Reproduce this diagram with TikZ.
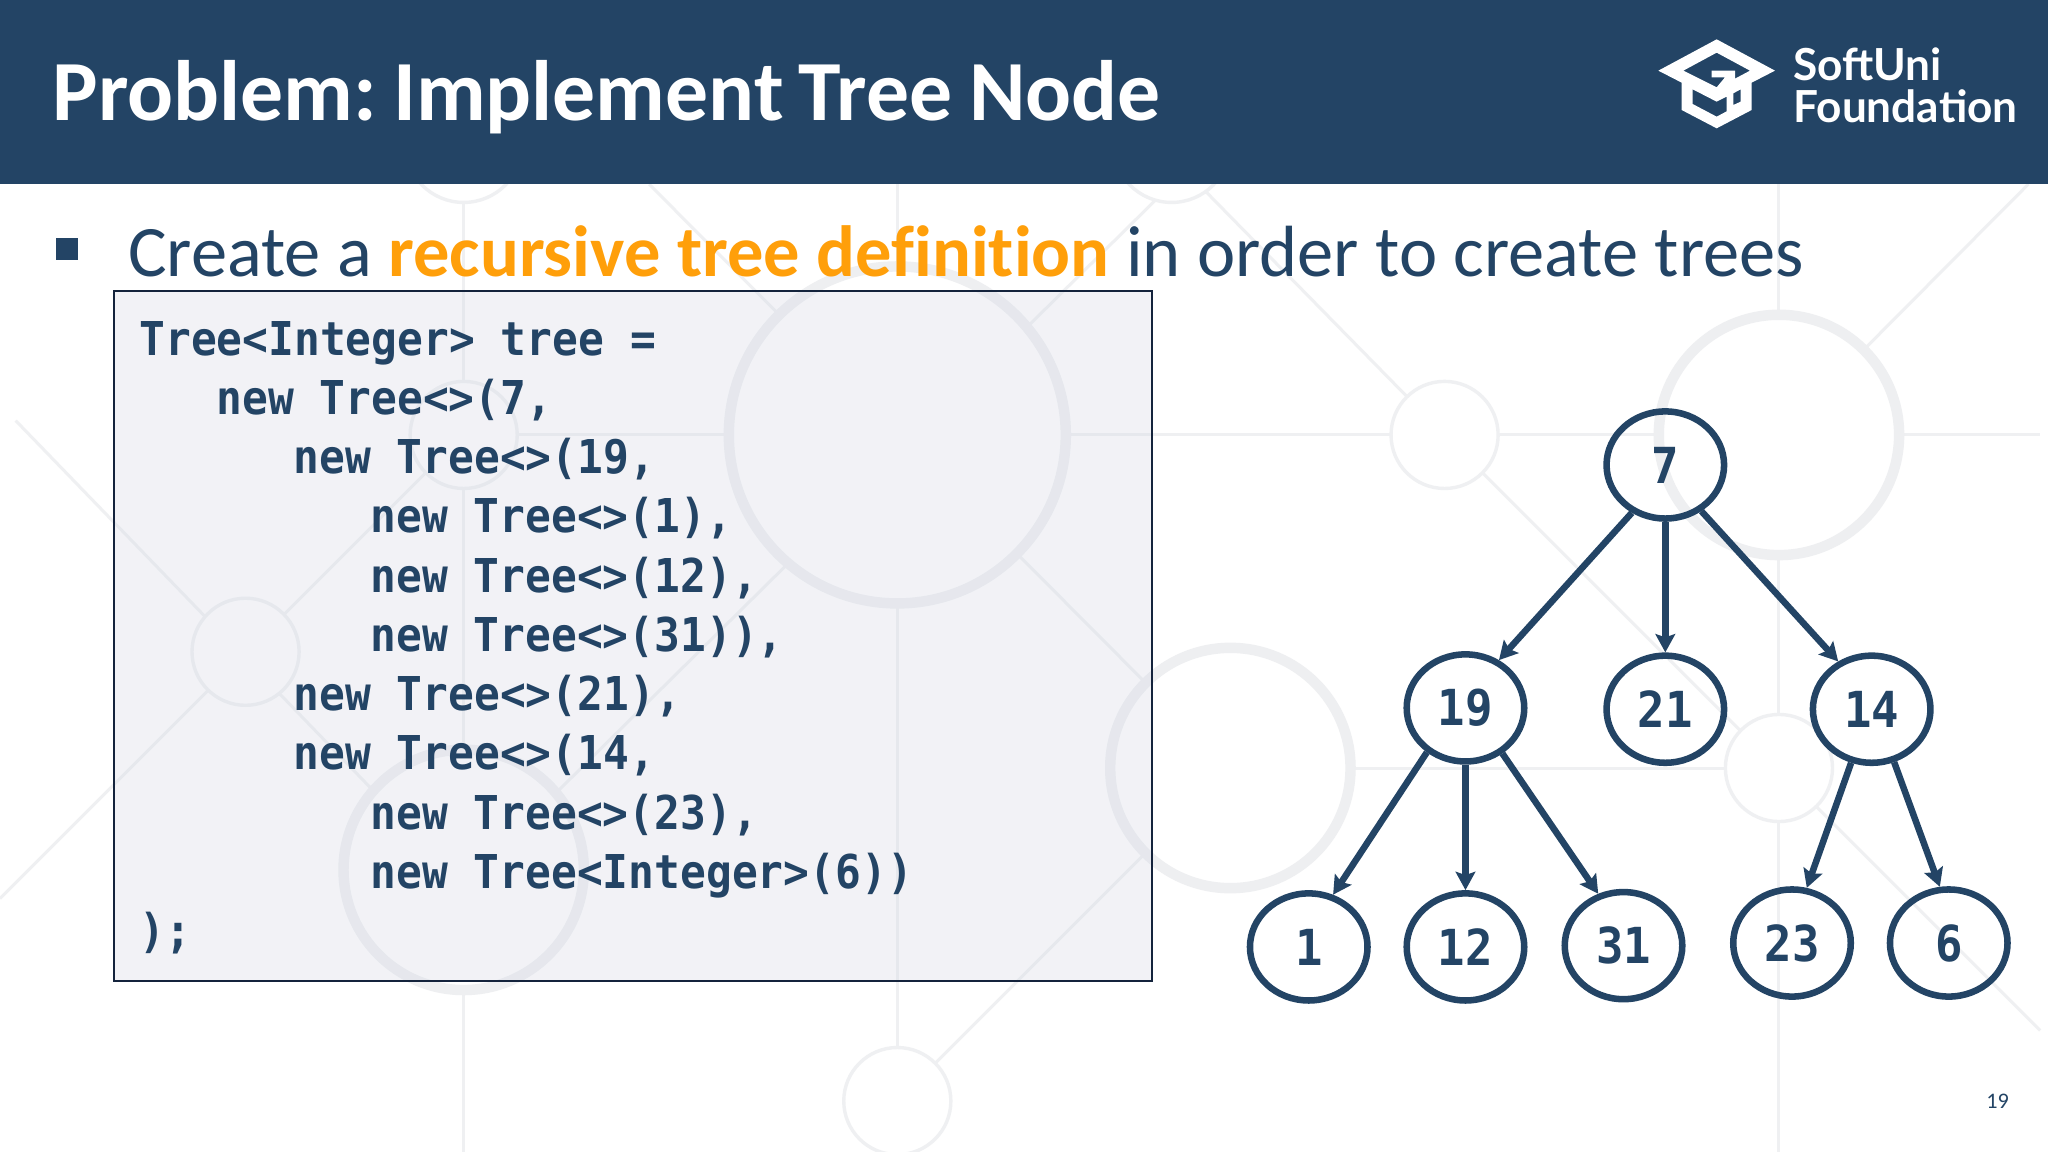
\documentclass[tikz,border=0pt]{standalone}
\usepackage{fontspec}
\usetikzlibrary{shapes.geometric,arrows.meta}
\setmainfont[Ligatures=NoCommon]{Carlito}
\newfontfamily\codefont[FakeStretch=0.92]{DejaVu Sans Mono}
\newfontfamily\logofont{Lato}
\definecolor{navy}{HTML}{234465}
\definecolor{amber}{HTML}{FF9F0A}
\definecolor{bgline}{HTML}{EFF0F2}
\definecolor{bgring}{HTML}{EEEFF1}
\definecolor{codebg}{HTML}{D4D7E4}
\definecolor{boxline}{HTML}{14233C}
\tikzset{
  treenode/.style={draw=navy,line width=5pt,ellipse,minimum width=90pt,minimum height=82pt,inner sep=0pt,text=navy,font=\fontsize{38}{38}\codefont\bfseries},
  treeedge/.style={draw=navy,line width=5pt,-{Stealth[length=14pt,width=15pt,inset=2.5pt]}},
  bgl/.style={draw=bgline,line width=2.3pt},
  smallring/.style={draw=bgline,line width=2.6pt,fill=white},
  bigring/.style={draw=bgring,line width=8pt,fill=white}
}
\begin{document}
\begin{tikzpicture}[x=1pt,y=-1pt]
\useasboundingbox (0,0) rectangle (1568,882);
\fill[white] (0,0) rectangle (1568,882);
% background network
\draw[bgl] (355,141) -- (355,882);
\draw[bgl] (687,141) -- (687,804);
\draw[bgl] (1362,141) -- (1362,882);
\draw[bgl] (355,333) -- (1562,333);
\draw[bgl] (942,588) -- (1362,588);
\draw[bgl] (12,322) -- (355,677);
\draw[bgl] (0,688) -- (355,333);
\draw[bgl] (497,141) -- (942,588);
\draw[bgl] (897,141) -- (355,677);
\draw[bgl] (897,120) -- (1106,333);
\draw[bgl] (1106,333) -- (1562,789);
\draw[bgl] (1362,333) -- (1553,141);
\draw[bgl] (687,843) -- (942,588);
\draw[smallring] (355,110) circle (45);
\draw[smallring] (897,110) circle (45);
\draw[smallring] (355,333) circle (41);
\draw[smallring] (188,499) circle (41);
\draw[smallring] (1106,333) circle (41);
\draw[smallring] (1362,588) circle (41);
\draw[smallring] (687,843) circle (41);
\draw[bigring] (687,333) circle (129);
\draw[bigring] (1362,333) circle (92);
\draw[bigring] (942,588) circle (92);
\draw[bigring] (355,666) circle (92);
% header
\fill[navy] (0,0) rectangle (1568,141);
\node[anchor=base west,inner sep=0pt,text=white,font=\fontsize{65.6}{65.6}\selectfont\bfseries] (title) at (40,92) {\spaceskip=11.5pt Problem:\hspace{-4pt} Implement Tree\hspace{1.5pt} Node};
% logo
\begin{scope}[shift={(1240.3pt,0pt)},x=0.2552pt,y=-0.2552pt]
\fill[white,even odd rule] (115,212) -- (290,118) -- (465,212) -- (395,248) -- (395,330) -- (290,385) -- (185,330) -- (185,248) -- cycle
  (190,212) -- (290,158) -- (390,212) -- (345,236) -- (345,212) -- (275,212) -- (275,232) -- (315,232) -- (290,262) -- cycle
  (218,268) -- (218,312) -- (290,350) -- (320,334) -- (320,290) -- (290,305) -- cycle
  (340,315) -- (362,305) -- (362,268) -- (340,280) -- cycle;
\end{scope}
\node[anchor=base west,inner sep=0pt,text=white,font=\fontsize{33.8}{33.8}\logofont\bfseries] (soft) at (1373,62) {SoftUni};
\node[anchor=base west,inner sep=0pt,text=white,font=\fontsize{33.8}{33.8}\logofont\bfseries] (found) at (1373,94) {Foundation};
% bullet
\fill[navy] (43,182) rectangle (60,199);
\node[anchor=base west,inner sep=0pt,text=navy,font=\fontsize{55.5}{55.5}\selectfont] (bullet) at (98,212) {Create a {\color{amber}\bfseries recursive tree definition} in order to create trees};
% code box
\path[fill=codebg,fill opacity=0.3] (87,222.5) rectangle (882,751);
\draw[draw=boxline,line width=1.5pt] (87,222.5) rectangle (882,751);
\node[anchor=north west,inner sep=0pt,align=left,text=navy,font=\fontsize{35.7}{45.35}\codefont\bfseries] (code) at (106.5,245.7) {%
Tree<Integer> tree =\\
\hspace*{59pt}new Tree<>(7,\\
\hspace*{118pt}new Tree<>(19,\\
\hspace*{177pt}new Tree<>(1),\\
\hspace*{177pt}new Tree<>(12),\\
\hspace*{177pt}new Tree<>(31)),\\
\hspace*{118pt}new Tree<>(21),\\
\hspace*{118pt}new Tree<>(14,\\
\hspace*{177pt}new Tree<>(23),\\
\hspace*{177pt}new Tree<Integer>(6))\\
);};
% tree
\node[treenode] (n7) at (1275,356) {7};
\node[treenode] (n19) at (1122,542) {19};
\node[treenode] (n21) at (1275,543) {21};
\node[treenode] (n14) at (1433,543) {14};
\node[treenode] (n1) at (1002,725) {1};
\node[treenode] (n12) at (1122,725) {12};
\node[treenode] (n31) at (1243,724) {31};
\node[treenode] (n23) at (1372,722) {23};
\node[treenode] (n6) at (1492,722) {6};
\draw[treeedge] (n7.235) -- (n19.55);
\draw[treeedge] (n7.270) -- (n21.90);
\draw[treeedge] (n7.-52) -- (n14.125);
\draw[treeedge] (n19.229) -- (n1.65);
\draw[treeedge] (n19.270) -- (n12.90);
\draw[treeedge] (n19.-51) -- (n31.116);
\draw[treeedge] (n14.249) -- (n23.75);
\draw[treeedge] (n14.-67) -- (n6.99);
\node[anchor=center,inner sep=0pt,text=navy,font=\fontsize{17}{17}\selectfont] (page) at (1529.5,843) {19};
\end{tikzpicture}
\end{document}
